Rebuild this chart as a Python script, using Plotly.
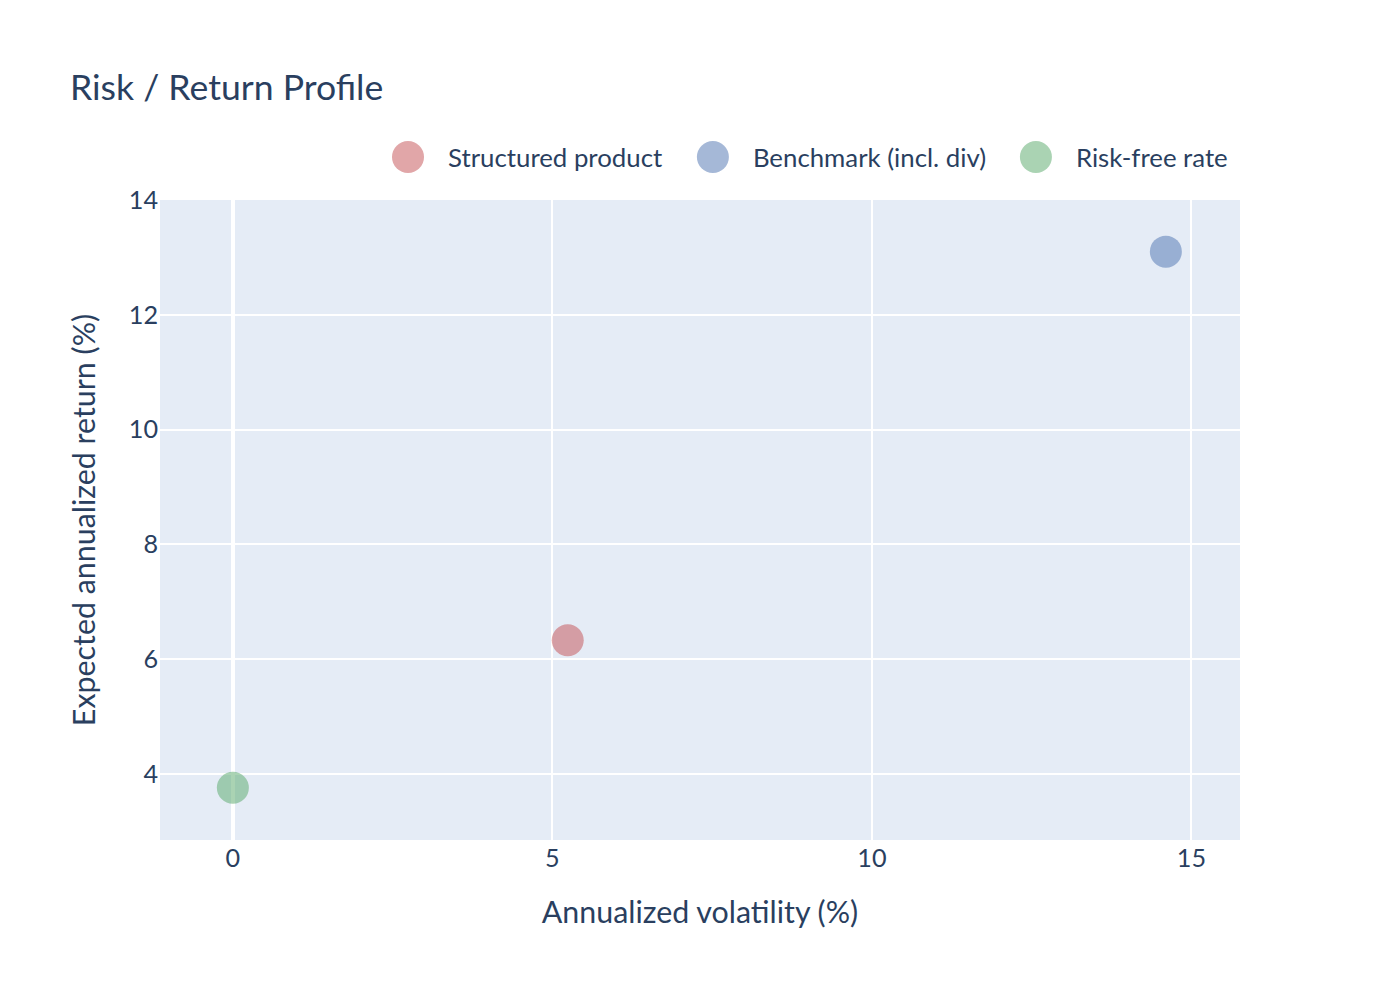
"""
risk / return scatter for the structured product
"""
import plotly.graph_objects as go

# data
names = ["Structured product", "Benchmark (incl. div)", "Risk-free rate"]
volatility = [5.24, 14.6, 0.0]
expected_return = [6.33, 13.1, 3.76]
colors = ["#C44E52", "#4C72B0", "#55A868"]

FONT = "Lato, sans-serif"

fig = go.Figure()
for name, vol, ret, col in zip(names, volatility, expected_return, colors):
    fig.add_trace(go.Scatter(x=[vol], y=[ret], mode="markers", name=name,
                             marker=dict(size=16, color=col, opacity=0.5)))

# laid out at 700x500 and shown at 2x, like an image export with scale=2
fig.update_layout(
    template="plotly",
    width=700, height=500,
    margin=dict(l=80, r=80, t=100, b=80),
    font=dict(family=FONT, size=12.6, color="#2a3f5f"),
    title=dict(text="Risk / Return Profile", font=dict(size=17.8), x=0.05),
    legend=dict(orientation="h", x=1, xanchor="right", y=1.02, yanchor="bottom",
                font=dict(size=12.9)),
    xaxis=dict(title=dict(text="Annualized volatility (%)", font=dict(size=15.2)),
               range=[-1.14, 15.76], dtick=5),
    yaxis=dict(title=dict(text="Expected annualized return (%)", font=dict(size=15.2),
                          standoff=12),
               range=[2.85, 14], dtick=2),
)

fig.write_html("out.html",
               config={"displayModeBar": False},
               post_script="document.body.style.margin='0';"
                           "document.body.style.zoom='2';")
